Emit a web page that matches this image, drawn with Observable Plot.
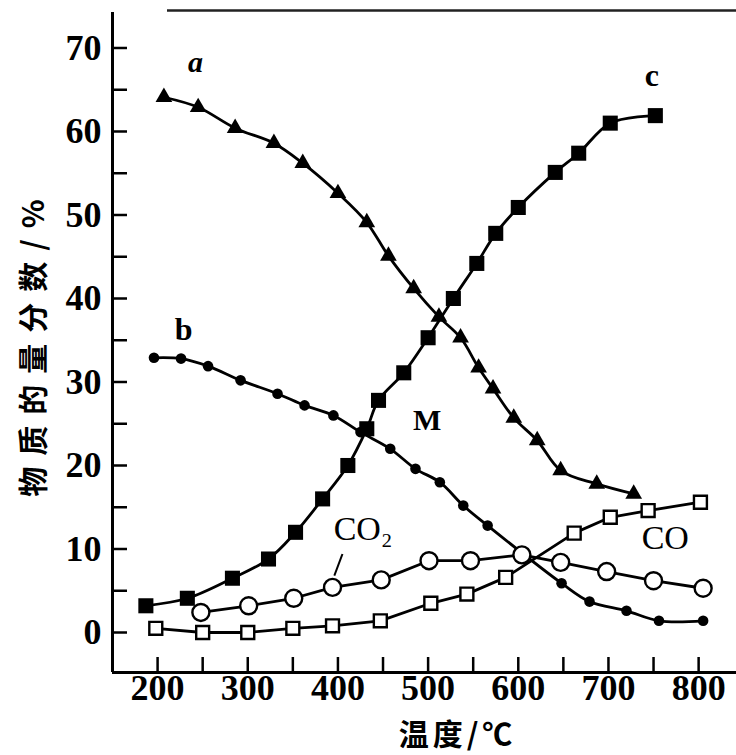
<!DOCTYPE html>
<html><head><meta charset="utf-8">
<script src="https://cdn.jsdelivr.net/npm/d3@7"></script>
<script src="https://cdn.jsdelivr.net/npm/@observablehq/plot@0.6"></script>
<style>body{margin:0;background:#fff} svg{display:block}</style>
</head><body><div id="chart"></div>
<script>
// Series a (filled triangles)
const aTemp = [207, 245, 286, 329, 361, 400, 432, 456, 484, 512, 536, 556, 572, 595, 621, 647, 687, 728];
const aVal  = [64.1, 62.9, 60.4, 58.6, 56.2, 52.6, 49.1, 45.1, 41.2, 37.8, 35.3, 31.7, 29.2, 25.7, 23.0, 19.4, 17.8, 16.6];
// Series b (small filled circles)
const bTemp = [196, 226, 256, 292, 333, 363, 395, 425, 458, 486, 513, 539, 566, 648, 679, 720, 756, 805];
const bVal  = [32.9, 32.8, 31.9, 30.2, 28.6, 27.2, 26.0, 24.0, 22.0, 19.6, 18.0, 15.2, 12.8, 5.9, 3.7, 2.6, 1.4, 1.4];
// Series c (filled squares)
const cTemp = [187, 233, 283, 323, 353, 383, 411, 432, 445, 473, 500, 528, 554, 575, 600, 641, 667, 702, 752];
const cVal  = [3.2, 4.1, 6.5, 8.8, 12.0, 16.0, 20.0, 24.4, 27.8, 31.1, 35.3, 40.0, 44.2, 47.8, 50.9, 55.1, 57.4, 61.0, 61.9];
// CO2 (open circles)
const co2Temp = [248, 301, 351, 394, 448, 501, 547, 604, 647, 698, 750, 805];
const co2Val  = [2.4, 3.2, 4.1, 5.4, 6.3, 8.6, 8.6, 9.3, 8.4, 7.3, 6.2, 5.3];
// CO (open squares)
const coTemp = [198, 250, 300, 350, 394, 447, 503, 543, 586, 662, 702, 744, 802];
const coVal  = [0.5, 0.0, 0.0, 0.5, 0.8, 1.4, 3.5, 4.6, 6.6, 11.9, 13.8, 14.6, 15.6];
// Curve labels
const labelText = ["a", "b", "c", "M", "CO\u2082", "CO"];
const labelTemp = [242, 229, 748, 499, 428, 763];
const labelVal  = [68.3, 36.2, 66.7, 25.4, 12.4, 11.3];
// Axis ticks
const xLabelTicks = [200, 300, 400, 500, 600, 700, 800];
const xMinorTicks = [200, 250, 300, 350, 400, 450, 500, 550, 600, 650, 700, 750, 800];
const yLabelTicks = [0, 10, 20, 30, 40, 50, 60, 70];
const yMinorTicks = [0, 5, 10, 15, 20, 25, 30, 35, 40, 45, 50, 55, 60, 65, 70];
const xTitle = "温度/℃";
const yTitle = "物质的量分数/%";

const W = 736, H = 755;
const mL = 112, mR = 0, mT = 12, mB = 83;
const xDom = [150, 842], yDom = [-4.79, 74.25];
const pxX = (W - mL - mR) / (xDom[1] - xDom[0]);
const pxY = (H - mT - mB) / (yDom[1] - yDom[0]);
const tickLen = 15;

const zip = (xs, ys) => xs.map((x, i) => ({x, y: ys[i]}));
const A = zip(aTemp, aVal), B = zip(bTemp, bVal), C = zip(cTemp, cVal);
const CO2 = zip(co2Temp, co2Val), CO = zip(coTemp, coVal);
const labels = labelText.map((t, i) => ({t, x: labelTemp[i], y: labelVal[i]}));
const bcLabels = labels.filter(d => d.t === "b" || d.t === "c");
const aLabel = labels.filter(d => d.t === "a");
const mLabel = labels.filter(d => d.t === "M");
const gasLabels = labels.filter(d => d.t.startsWith("CO"));

const serif = "Liberation Serif, Times New Roman, serif";
const lw = 2.8;

const chart = Plot.plot({
  width: W, height: H,
  marginLeft: mL, marginRight: mR, marginTop: mT, marginBottom: mB,
  style: {fontFamily: serif, color: "#000", background: "#fff"},
  x: {domain: xDom, axis: null},
  y: {domain: yDom, axis: null},
  marks: [
    Plot.ruleX([xDom[0]], {stroke: "#000", strokeWidth: 3}),
    Plot.ruleY([yDom[0]], {stroke: "#000", strokeWidth: 3}),
    Plot.ruleY([yDom[1] + 0.25], {x1: 211, x2: xDom[1], stroke: "#222", strokeWidth: 2.5}),
    Plot.ruleX(xMinorTicks, {y1: yDom[0], y2: yDom[0] + tickLen / pxY, stroke: "#000", strokeWidth: 2.5}),
    Plot.ruleY(yMinorTicks, {x1: xDom[0], x2: xDom[0] + tickLen / pxX, stroke: "#000", strokeWidth: 2.5}),
    Plot.axisX(xLabelTicks, {tickSize: 0, tickPadding: 2, label: null, fontSize: 36, fontWeight: "bold"}),
    Plot.axisY(yLabelTicks, {tickSize: 0, tickPadding: 11, label: null, fontSize: 36, fontWeight: "bold"}),
    Plot.text([xTitle], {frameAnchor: "bottom", dx: 33, dy: 72, fontSize: 30, fontWeight: "bold", fontFamily: "Noto Sans CJK SC", fill: "#000"}),
    Plot.text([yTitle], {frameAnchor: "left", textAnchor: "middle", dx: -78, rotate: -90, fontSize: 30, fontWeight: "bold", fontFamily: "Noto Sans CJK SC", fill: "#000"}),
    Plot.line(A, {x: "x", y: "y", stroke: "#000", strokeWidth: lw, curve: "catmull-rom"}),
    Plot.line(B, {x: "x", y: "y", stroke: "#000", strokeWidth: lw, curve: "catmull-rom"}),
    Plot.line(C, {x: "x", y: "y", stroke: "#000", strokeWidth: lw, curve: "catmull-rom"}),
    Plot.line(CO2, {x: "x", y: "y", stroke: "#000", strokeWidth: lw}),
    Plot.line(CO, {x: "x", y: "y", stroke: "#000", strokeWidth: lw}),
    Plot.dot(A, {x: "x", y: "y", symbol: "triangle", r: 6.2, fill: "#000"}),
    Plot.dot(B, {x: "x", y: "y", symbol: "circle", r: 5.3, fill: "#000"}),
    Plot.dot(C, {x: "x", y: "y", symbol: "square", r: 8.5, fill: "#000"}),
    Plot.dot(CO2, {x: "x", y: "y", symbol: "circle", r: 8.5, fill: "#fff", stroke: "#000", strokeWidth: 2.4}),
    Plot.dot(CO, {x: "x", y: "y", symbol: "square", r: 7.3, fill: "#fff", stroke: "#000", strokeWidth: 2.4}),
    Plot.link([{x1: 405, y1: 9.4, x2: 396, y2: 6.8}], {x1: "x1", y1: "y1", x2: "x2", y2: "y2", stroke: "#000", strokeWidth: 2}),
    Plot.text(bcLabels, {x: "x", y: "y", text: "t", fontSize: 32, fontWeight: "bold", fontFamily: serif, fill: "#000"}),
    Plot.text(aLabel, {x: "x", y: "y", text: "t", fontSize: 30, fontWeight: "bold", fontStyle: "italic", fontFamily: serif, fill: "#000"}),
    Plot.text(mLabel, {x: "x", y: "y", text: "t", fontSize: 30, fontWeight: "bold", fontFamily: serif, fill: "#000"}),
    Plot.text(gasLabels, {x: "x", y: "y", text: "t", fontSize: 34, fontFamily: serif, fill: "#000"})
  ]
});
// tick labels in a bold serif; widen title letter spacing like the reference
chart.querySelectorAll("text").forEach(t => {
  const s = t.textContent.trim();
  if (/^\d+$/.test(s)) {
    t.style.fontFamily = '"Liberation Serif", serif';
    t.style.fontWeight = "bold";
    t.style.fontSize = "36px";
  } else if (s === yTitle) {
    t.style.letterSpacing = "11px";
  } else if (s === xTitle) {
    t.style.letterSpacing = "4px";
  }
});
document.getElementById("chart").append(chart);
</script>
</body></html>
